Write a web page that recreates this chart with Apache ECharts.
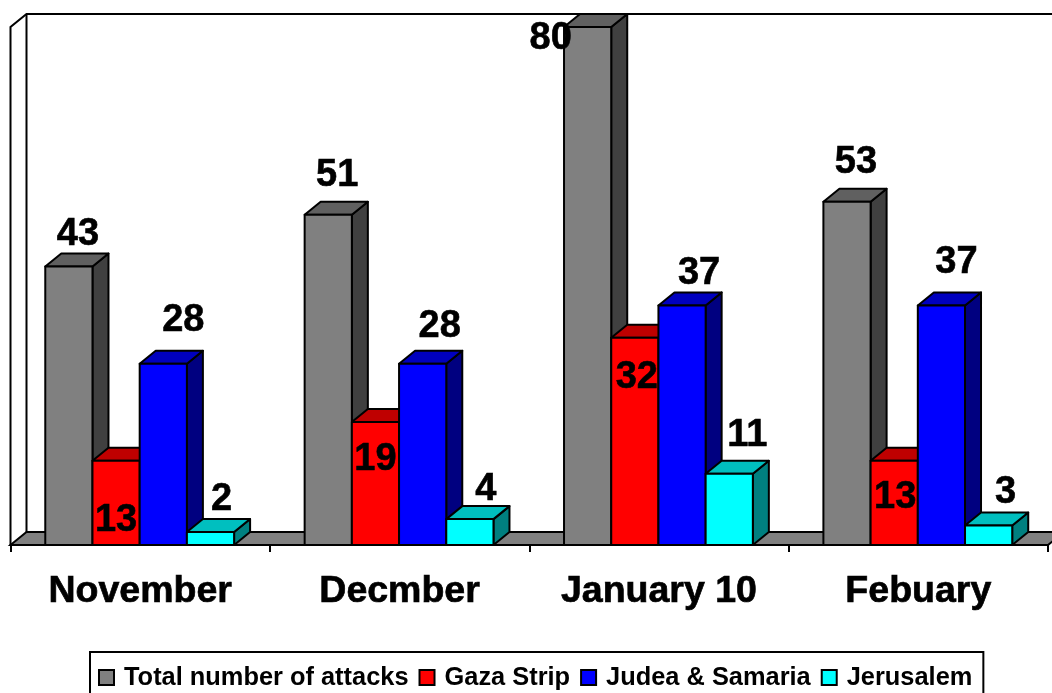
<!DOCTYPE html>
<html>
<head>
<meta charset="utf-8">
<style>
    html, body { margin: 0; padding: 0; background: #fff; }
    #chart { width: 1052px; height: 693px; }
</style>
<script src="https://cdn.jsdelivr.net/npm/echarts@6/dist/echarts.min.js"></script>
</head>
<body>
<div id="chart"></div>
<script>
var categories = ['November', 'Decmber', 'January 10', 'Febuary'];
var seriesNames = ['Total number of attacks', 'Gaza Strip', 'Judea & Samaria', 'Jerusalem'];
var totalAttacks = [43, 51, 80, 53];
var gazaStrip = [13, 19, 32, 13];
var judeaSamaria = [28, 28, 37, 37];
var jerusalem = [2, 4, 11, 3];

// hand placed value labels, offset from the middle of the bar top [dx, dy]
var totalLabelOffset = [[9, -32], [9, -39], [-37, 12], [9, -39]];
var gazaLabelOffset = [[0, 60], [0, 38], [2, 40], [1, 37]];
var judeaLabelOffset = [[20, -43], [17, -37], [17, -32], [15, -43]];
var jerusalemLabelOffset = [[11, -33], [16, -30], [18, -38], [17, -33]];

var depthX = 16;
var depthY = 13;

function barSeries(index, values, offsets, front, top, side) {
    return {
        type: 'custom',
        name: seriesNames[index],
        coordinateSystem: 'cartesian2d',
        clip: false,
        itemStyle: { color: front, borderColor: '#000', borderWidth: 1.5 },
        encode: { x: 0, y: 1 },
        data: values.map(function (v, i) { return [i, v]; }),
        renderItem: function (params, api) {
            var cat = api.value(0);
            var val = api.value(1);
            var base = api.coord([cat, 0]);
            var tip = api.coord([cat, val]);
            var w = api.size([1, 0])[0] * 0.182;
            var x0 = base[0] - 0.5 + (index - 2) * w;
            var x1 = x0 + w;
            var y0 = tip[1];
            var y1 = base[1];
            var edge = { stroke: '#000', lineWidth: 2, lineJoin: 'round' };
            var off = offsets[cat];
            return {
                type: 'group',
                children: [
                    {
                        type: 'polygon',
                        shape: { points: [[x1, y0], [x1 + depthX, y0 - depthY], [x1 + depthX, y1 - depthY], [x1, y1]] },
                        style: Object.assign({ fill: side }, edge)
                    },
                    {
                        type: 'polygon',
                        shape: { points: [[x0, y0], [x0 + depthX, y0 - depthY], [x1 + depthX, y0 - depthY], [x1, y0]] },
                        style: Object.assign({ fill: top }, edge)
                    },
                    {
                        type: 'rect',
                        shape: { x: x0, y: y0, width: w, height: y1 - y0 },
                        style: Object.assign({ fill: front }, edge)
                    },
                    {
                        type: 'text',
                        z2: 100,
                        style: {
                            text: String(val),
                            x: (x0 + x1) / 2 + off[0],
                            y: y0 + off[1],
                            align: 'center',
                            verticalAlign: 'middle',
                            fill: '#000',
                            stroke: '#000',
                            lineWidth: 0.6,
                            font: 'bold 38px "Liberation Sans"'
                        }
                    }
                ]
            };
        }
    };
}

// floor and the two walls behind the bars
var wallSeries = {
    type: 'custom',
    coordinateSystem: 'cartesian2d',
    clip: false,
    silent: true,
    data: [[0, 0]],
    renderItem: function (params) {
        var r = params.coordSys;
        var l = r.x, t = r.y, b = r.y + r.height, e = r.x + r.width;
        var edge = { stroke: '#000', lineWidth: 2 };
        return {
            type: 'group',
            children: [
                {
                    type: 'polygon',
                    shape: { points: [[l, b], [l + depthX, b - depthY], [e + depthX, b - depthY], [e, b]] },
                    style: Object.assign({ fill: '#808080' }, edge)
                },
                {
                    type: 'polyline',
                    shape: { points: [[l, b], [l, t], [l + depthX, t - depthY], [e + depthX, t - depthY]] },
                    style: { fill: 'none', stroke: '#000', lineWidth: 2 }
                },
                {
                    type: 'line',
                    shape: { x1: l + depthX, y1: t - depthY, x2: l + depthX, y2: b - depthY },
                    style: { stroke: '#000', lineWidth: 2 }
                }
            ]
        };
    }
};

var chart = echarts.init(document.getElementById('chart'));
chart.setOption({
    animation: false,
    backgroundColor: '#fff',
    textStyle: { fontFamily: 'Liberation Sans' },
    grid: { left: 10.5, top: 27, width: 1037.5, height: 518 },
    legend: {
        data: seriesNames,
        icon: 'rect',
        left: 90,
        top: 652,
        orient: 'horizontal',
        borderColor: '#000',
        borderWidth: 2,
        padding: [13, 11, 12, 8],
        itemGap: 10,
        itemWidth: 15,
        itemHeight: 15,
        textStyle: { fontFamily: 'Liberation Sans', fontWeight: 'bold', fontSize: 25.4, color: '#000', padding: [0, 0, 0, 5] }
    },
    xAxis: {
        type: 'category',
        data: categories,
        axisLine: { lineStyle: { color: '#000', width: 2 } },
        axisTick: { show: true, length: 7, lineStyle: { color: '#000', width: 2 } },
        axisLabel: {
            color: '#000',
            fontWeight: 'bold',
            fontSize: 37.5,
            margin: 28,
            fontFamily: 'Liberation Sans',
            textBorderColor: '#000',
            textBorderWidth: 0.7
        }
    },
    yAxis: { type: 'value', min: 0, max: 80, interval: 20, show: false },
    series: [
        wallSeries,
        barSeries(0, totalAttacks, totalLabelOffset, '#808080', '#606060', '#404040'),
        barSeries(1, gazaStrip, gazaLabelOffset, '#FF0000', '#BF0000', '#800000'),
        barSeries(2, judeaSamaria, judeaLabelOffset, '#0000FF', '#0000BF', '#000080'),
        barSeries(3, jerusalem, jerusalemLabelOffset, '#00FFFF', '#00BFBF', '#008080')
    ]
});
window.addEventListener('resize', chart.resize);
</script>
</body>
</html>
